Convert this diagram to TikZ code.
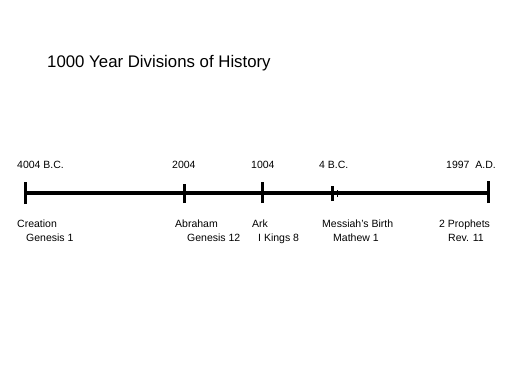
\documentclass[tikz,border=0pt]{standalone}
\usepackage{fontspec}
\setmainfont{Liberation Sans}
\usepackage{xcolor}

\tikzset{
  datelabel/.style={anchor=base west, inner sep=0pt, font=\fontsize{10.5}{12}\selectfont},
  eventlabel/.style={anchor=base west, inner sep=0pt, font=\fontsize{10.5}{12}\selectfont},
  bigtick/.style={line width=3pt},
}

\begin{document}
\begin{tikzpicture}[x=1pt,y=-1pt]
		\useasboundingbox (0,0) rectangle (512,384);

		% Title
		\node[anchor=base west, inner sep=0pt, font=\fontsize{16.8}{20}\selectfont] (title) at (47,67) {1000 Year Divisions of History};

		% Time line
		\coordinate (creation) at (25,193);
		\coordinate (abraham) at (184,193);
		\coordinate (ark) at (262,193);
		\coordinate (messiah) at (332,193);
		\coordinate (prophets) at (488,193);
		\draw[line width=3.5pt] (creation) -- (prophets);

		% Ticks
		\draw[bigtick] ([yshift=-11pt]creation) -- ([yshift=11pt]creation);
		\draw[bigtick] ([yshift=-10pt]abraham) -- ([yshift=9pt]abraham);
		\draw[bigtick] ([yshift=-10pt]ark) -- ([yshift=11pt]ark);
		\draw[bigtick] ([yshift=-8pt]messiah) -- ([yshift=7pt]messiah);
		\draw[line width=1pt] ([xshift=5pt,yshift=-4pt]messiah) -- ([xshift=5pt,yshift=3pt]messiah);
		\draw[bigtick] ([yshift=-10pt]prophets) -- ([yshift=12pt]prophets);

		% Dates
		\node[datelabel] (d1) at (17,168) {4004 B.C.};
		\node[datelabel] (d2) at (172,168) {2004};
		\node[datelabel] (d3) at (251,168) {1004};
		\node[datelabel] (d4) at (319,168) {4 B.C.};
		\node[datelabel] (d5) at (446,168) {1997\ \ A.D.};

		% Events
		\node[eventlabel] (e1) at (17,227) {Creation};
		\node[eventlabel] (e2) at (175,227) {Abraham};
		\node[eventlabel] (e3) at (252,227) {Ark};
		\node[eventlabel] (e4) at (322,227) {Messiah's Birth};
		\node[eventlabel] (e5) at (439,227) {2 Prophets};

		% References
		\node[eventlabel] (r1) at (26,241) {Genesis 1};
		\node[eventlabel] (r2) at (187,241) {Genesis 12};
		\node[eventlabel] (r3) at (258,241) {I Kings 8};
		\node[eventlabel] (r4) at (333,241) {Mathew 1};
		\node[eventlabel] (r5) at (448,241) {Rev. 11};

	\end{tikzpicture}
\end{document}
